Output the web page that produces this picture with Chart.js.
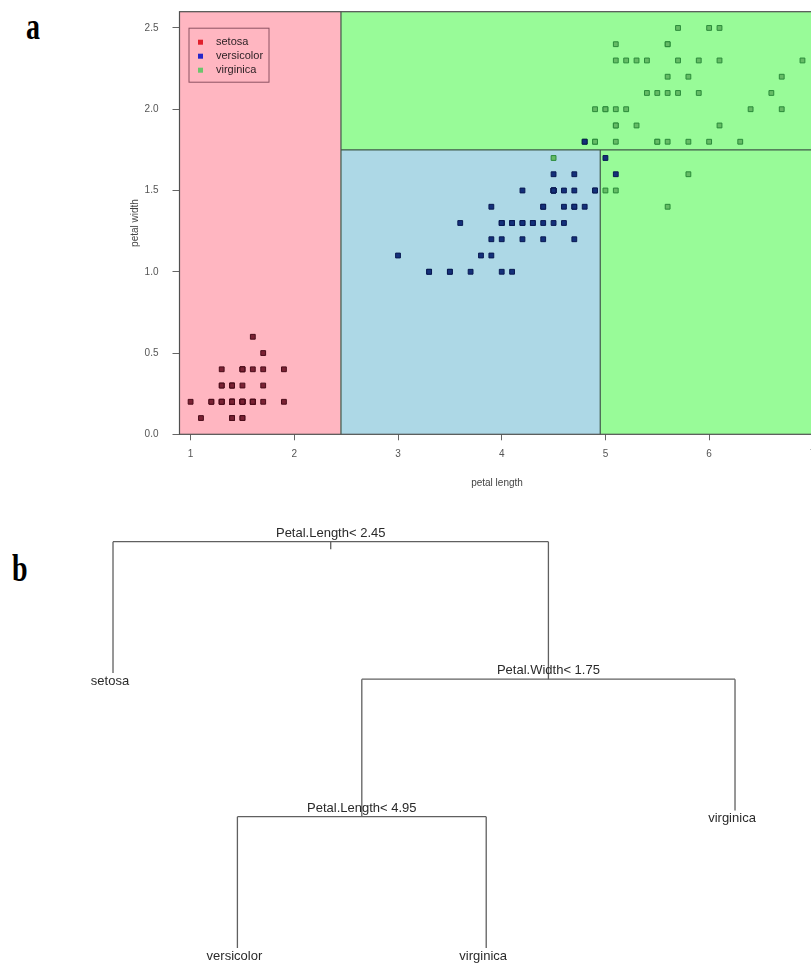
<!DOCTYPE html>
<html>
<head>
<meta charset="utf-8">
<script src="https://cdn.jsdelivr.net/npm/chart.js@4.4.1/dist/chart.umd.min.js"></script>
<style>
  html, body { margin: 0; padding: 0; background: #fff; }
  body { width: 811px; height: 965px; position: relative; overflow: hidden; }
  .tag {
    position: absolute;
    font-family: "Liberation Serif", "Times New Roman", serif;
    font-weight: bold;
    font-size: 28px;
    line-height: 1;
    transform: scaleY(1.35);
    transform-origin: left top;
    color: #000;
  }
  #wrapA { position: absolute; left: 0; top: 0; width: 820px; height: 500px; }
  #wrapB { position: absolute; left: 0; top: 500px; width: 811px; height: 465px; }
</style>
</head>
<body>
<div class="tag" style="left:26px; top:8px;">a</div>
<div class="tag" style="left:12px; top:550px;">b</div>
<div id="wrapA"><canvas id="scatter"></canvas></div>
<div id="wrapB"><canvas id="tree"></canvas></div>

<script>
// iris petal measurements (cm)
const setosaLength = [1.4,1.4,1.3,1.5,1.4,1.7,1.4,1.5,1.4,1.5,1.5,1.6,1.4,1.1,1.2,1.5,1.3,1.4,1.7,1.5,1.7,1.5,1.0,1.7,1.9,1.6,1.6,1.5,1.4,1.6,1.6,1.5,1.5,1.4,1.5,1.2,1.3,1.4,1.3,1.5,1.3,1.3,1.3,1.6,1.9,1.4,1.6,1.4,1.5,1.4];
const setosaWidth = [0.2,0.2,0.2,0.2,0.2,0.4,0.3,0.2,0.2,0.1,0.2,0.2,0.1,0.1,0.2,0.4,0.4,0.3,0.3,0.3,0.2,0.4,0.2,0.5,0.2,0.2,0.4,0.2,0.2,0.2,0.2,0.4,0.1,0.2,0.2,0.2,0.2,0.1,0.2,0.2,0.3,0.3,0.2,0.6,0.4,0.3,0.2,0.2,0.2,0.2];
const versicolorLength = [4.7,4.5,4.9,4.0,4.6,4.5,4.7,3.3,4.6,3.9,3.5,4.2,4.0,4.7,3.6,4.4,4.5,4.1,4.5,3.9,4.8,4.0,4.9,4.7,4.3,4.4,4.8,5.0,4.5,3.5,3.8,3.7,3.9,5.1,4.5,4.5,4.7,4.4,4.1,4.0,4.4,4.6,4.0,3.3,4.2,4.2,4.2,4.3,3.0,4.1];
const versicolorWidth = [1.4,1.5,1.5,1.3,1.5,1.3,1.6,1.0,1.3,1.4,1.0,1.5,1.0,1.4,1.3,1.4,1.5,1.0,1.5,1.1,1.8,1.3,1.5,1.2,1.3,1.4,1.4,1.7,1.5,1.0,1.1,1.0,1.2,1.6,1.5,1.6,1.5,1.3,1.3,1.3,1.2,1.4,1.2,1.0,1.3,1.2,1.3,1.3,1.1,1.3];
const virginicaLength = [6.0,5.1,5.9,5.6,5.8,6.6,4.5,6.3,5.8,6.1,5.1,5.3,5.5,5.0,5.1,5.3,5.5,6.7,6.9,5.0,5.7,4.9,6.7,4.9,5.7,6.0,4.8,4.9,5.6,5.8,6.1,6.4,5.6,5.1,5.6,6.1,5.6,5.5,4.8,5.4,5.6,5.1,5.1,5.9,5.7,5.2,5.0,5.2,5.4,5.1];
const virginicaWidth = [2.5,1.9,2.1,1.8,2.2,2.1,1.7,1.8,1.8,2.5,2.0,1.9,2.1,2.0,2.4,2.3,1.8,2.2,2.3,1.5,2.3,2.0,2.0,1.8,2.1,1.8,1.8,1.8,2.1,1.6,1.9,2.0,2.2,1.5,1.4,2.3,2.4,1.8,1.8,2.1,2.4,2.3,1.9,2.3,2.5,2.3,2.0,2.0,2.3,1.8];

const species = ['setosa', 'versicolor', 'virginica'];
const xTicks = [1, 2, 3, 4, 5, 6, 7];
const yTicks = [0, 0.5, 1.0, 1.5, 2.0, 2.5];

// tree splits
const lengthSplit1 = 2.45;
const widthSplit = 1.75;
const lengthSplit2 = 4.95;

// tree layout (panel b): x = leaf order position, level = depth
const treeLabels = ['Petal.Length< 2.45', 'setosa', 'Petal.Width< 1.75', 'Petal.Length< 4.95', 'versicolor', 'virginica', 'virginica'];
const treeX = [1.875, 1, 2.75, 2, 1.5, 2.5, 3.5];
const treeLevel = [0, 1, 1, 2, 3, 3, 2];
const treeParent = [null, 0, 0, 2, 3, 3, 2];

const sans = '"Liberation Sans", Arial, Helvetica, sans-serif';

function toPoints(xs, ys) {
  return xs.map((x, i) => ({ x, y: ys[i] }));
}

const regionPlugin = {
  id: 'regions',
  beforeDatasetsDraw(chart) {
    const { ctx, chartArea: a, scales: { x, y } } = chart;
    const x1 = x.getPixelForValue(lengthSplit1);
    const x2 = x.getPixelForValue(lengthSplit2);
    const y1 = y.getPixelForValue(widthSplit);
    ctx.save();
    ctx.fillStyle = '#98fb98';
    ctx.fillRect(a.left, a.top, a.right - a.left, a.bottom - a.top);
    ctx.fillStyle = '#ffb6c1';
    ctx.fillRect(a.left, a.top, x1 - a.left, a.bottom - a.top);
    ctx.fillStyle = '#add8e6';
    ctx.fillRect(x1, y1, x2 - x1, a.bottom - y1);

    ctx.strokeStyle = '#3f5a48';
    ctx.lineWidth = 1.2;
    ctx.beginPath();
    ctx.moveTo(x1, a.top); ctx.lineTo(x1, a.bottom);
    ctx.moveTo(x1, y1); ctx.lineTo(a.right, y1);
    ctx.moveTo(x2, y1); ctx.lineTo(x2, a.bottom);
    ctx.stroke();

    ctx.strokeStyle = '#505050';
    ctx.strokeRect(a.left, a.top, a.right - a.left, a.bottom - a.top);
    ctx.restore();
  },
  afterDatasetsDraw(chart) {
    const { ctx, chartArea: a } = chart;
    const bx = a.left + 9.5, by = a.top + 16.5, bw = 80, bh = 54;
    const marks = ['#e0202c', '#2626c8', '#6cc46c'];
    ctx.save();
    ctx.strokeStyle = '#8c5262';
    ctx.lineWidth = 1;
    ctx.strokeRect(bx, by, bw, bh);
    ctx.font = '11px ' + sans;
    ctx.textBaseline = 'middle';
    species.forEach((s, i) => {
      const yy = by + 14 + i * 14;
      ctx.fillStyle = marks[i];
      ctx.fillRect(bx + 9, yy - 2.5, 5, 5);
      ctx.fillStyle = '#2e2226';
      ctx.fillText(s, bx + 27, yy);
    });
    ctx.restore();
  }
};

new Chart(document.getElementById('scatter'), {
  type: 'scatter',
  data: {
    datasets: [
      { label: 'setosa', data: toPoints(setosaLength, setosaWidth),
        backgroundColor: '#7a2234', borderColor: '#4a0c1a' },
      { label: 'versicolor', data: toPoints(versicolorLength, versicolorWidth),
        backgroundColor: '#14307a', borderColor: '#0a1a52' },
      { label: 'virginica', data: toPoints(virginicaLength, virginicaWidth),
        backgroundColor: '#66bb66', borderColor: '#2a8a3a' }
    ]
  },
  options: {
    responsive: true,
    maintainAspectRatio: false,
    animation: false,
    layout: { padding: { top: 11.7, right: 5.5, bottom: 0, left: 0 } },
    elements: { point: { pointStyle: 'rect', radius: 3.4, borderWidth: 1, hoverRadius: 3.4 } },
    plugins: { legend: { display: false }, tooltip: { enabled: false } },
    scales: {
      x: {
        type: 'linear',
        min: 0.893,
        max: 7.016,
        border: { display: false },
        grid: { drawOnChartArea: false, drawTicks: true, tickLength: 6, color: '#666' },
        ticks: { font: { family: sans, size: 10 }, color: '#555', padding: 8,
                 callback: v => String(v) },
        title: { display: true, text: 'petal length', color: '#444',
                 font: { family: sans, size: 10 }, padding: { top: 0, bottom: 11 } },
        afterBuildTicks: s => { s.ticks = xTicks.map(v => ({ value: v })); },
        afterFit: s => { s.height = 65.7; s.paddingLeft = 0; s.paddingRight = 0; }
      },
      y: {
        type: 'linear',
        min: 0,
        max: 2.6,
        border: { display: false },
        grid: { drawOnChartArea: false, drawTicks: true, tickLength: 7, color: '#666' },
        ticks: { font: { family: sans, size: 10 }, color: '#555', padding: 14,
                 callback: v => v.toFixed(1) },
        title: { display: true, text: 'petal width', color: '#444',
                 font: { family: sans, size: 10 }, padding: { top: 129, bottom: 0 } },
        afterBuildTicks: s => { s.ticks = yTicks.map(v => ({ value: v })); },
        afterFit: s => { s.width = 179.5; s.paddingTop = 0; s.paddingBottom = 0; }
      }
    }
  },
  plugins: [regionPlugin]
});

// ---- panel b: classification tree ----
const isLeaf = treeLabels.map((_, i) => !treeParent.includes(i));
const leafGap = 0.045;
const segments = [];
treeLabels.forEach((_, i) => {
  const p = treeParent[i];
  if (p !== null) {
    segments.push([{ x: treeX[i], y: treeLevel[p] },
                   { x: treeX[i], y: treeLevel[i] - (isLeaf[i] ? leafGap : 0) }]);
  }
  if (!isLeaf[i]) {
    const kids = treeX.filter((_, k) => treeParent[k] === i);
    segments.push([{ x: Math.min(...kids), y: treeLevel[i] },
                   { x: Math.max(...kids), y: treeLevel[i] }]);
  }
});
// small mark under the root split
segments.push([{ x: treeX[0], y: treeLevel[0] }, { x: treeX[0], y: treeLevel[0] + 0.055 }]);

const treeTextPlugin = {
  id: 'treeText',
  afterDatasetsDraw(chart) {
    const { ctx, scales: { x, y } } = chart;
    ctx.save();
    ctx.font = '13px ' + sans;
    ctx.fillStyle = '#2a2a2a';
    ctx.textAlign = 'center';
    treeLabels.forEach((t, i) => {
      const px = x.getPixelForValue(treeX[i]);
      const py = y.getPixelForValue(treeLevel[i]);
      if (isLeaf[i]) {
        ctx.textBaseline = 'middle';
        ctx.fillText(t, px - 3, py + 2);
      } else {
        ctx.textBaseline = 'alphabetic';
        ctx.fillText(t, px, py - 5);
      }
    });
    ctx.restore();
  }
};

new Chart(document.getElementById('tree'), {
  type: 'scatter',
  data: {
    datasets: segments.map(seg => ({
      data: seg,
      showLine: true,
      borderColor: '#606060',
      borderWidth: 1.3,
      pointRadius: 0,
      pointHoverRadius: 0
    }))
  },
  options: {
    responsive: true,
    maintainAspectRatio: false,
    animation: false,
    layout: { padding: 0 },
    plugins: { legend: { display: false }, tooltip: { enabled: false } },
    scales: {
      x: { type: 'linear', min: 0.5458, max: 3.8054, display: false },
      y: { type: 'linear', min: -0.303, max: 3.079, reverse: true, display: false }
    }
  },
  plugins: [treeTextPlugin]
});
</script>
</body>
</html>
